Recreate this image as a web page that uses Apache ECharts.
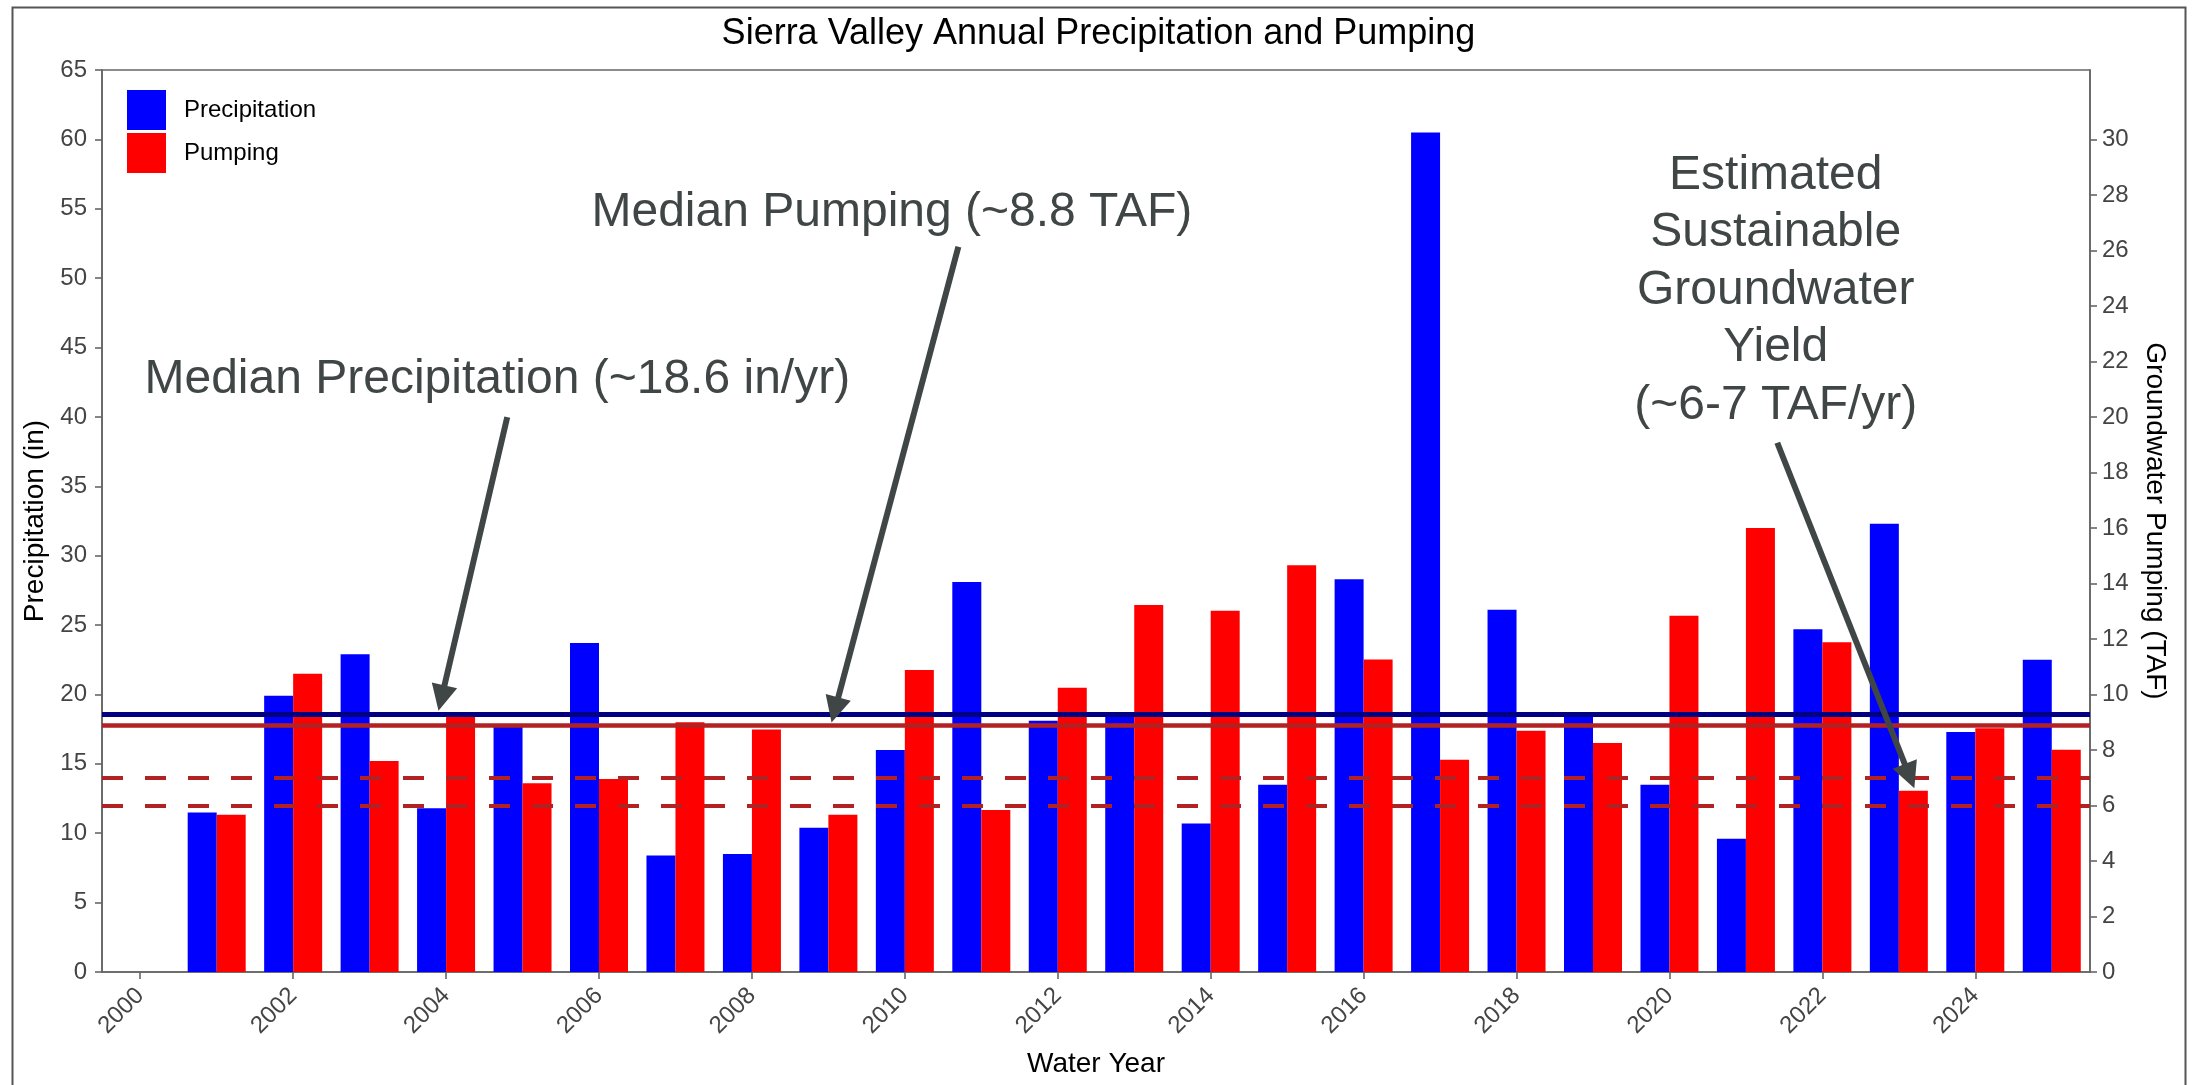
<!DOCTYPE html>
<html>
<head>
<meta charset="utf-8">
<script src="https://cdn.jsdelivr.net/npm/echarts@6/dist/echarts.min.js"></script>
<style>
html,body{margin:0;padding:0;background:#fff;}
#chart{width:2197px;height:1085px;}
</style>
</head>
<body>
<div id="chart"></div>
<script>
// ---- data ----
const years = [2001,2002,2003,2004,2005,2006,2007,2008,2009,2010,2011,2012,2013,2014,2015,2016,2017,2018,2019,2020,2021,2022,2023,2024,2025];
const precipitation = [11.5,19.9,22.9,11.8,17.7,23.7,8.4,8.5,10.4,16.0,28.1,18.1,18.6,10.7,13.5,28.3,60.5,26.1,18.6,13.5,9.6,24.7,32.3,17.3,22.5];
const pumping = [5.67,10.75,7.6,9.2,6.8,6.95,9.0,8.74,5.67,10.88,5.84,10.24,13.22,13.02,14.66,11.26,7.65,8.69,8.25,12.84,16.0,11.88,6.53,8.78,8.01];
const xTickYears = [2000,2002,2004,2006,2008,2010,2012,2014,2016,2018,2020,2022,2024];
const rightTicks = [0,2,4,6,8,10,12,14,16,18,20,22,24,26,28,30];
const medianPrecip = 18.6;
const medianPumpLine = 8.9;
const sustainableYield = [7, 6];
// annotation texts: [year, precip-axis value, text]
const annotationTexts = [
  [2004.67, 42.65, 'Median Precipitation (~18.6 in/yr)'],
  [2009.83, 54.7, 'Median Pumping (~8.8 TAF)'],
  [2021.39, 49.1, 'Estimated\nSustainable\nGroundwater\nYield\n(~6-7 TAF/yr)']
];
// arrows: [fromYear, fromValue, toYear, toValue] on precip axis
const arrows = [
  [2004.80, 39.99, 2003.94, 19.74],
  [2010.70, 52.27, 2009.085, 18.88],
  [2021.41, 38.14, 2023.14, 14.12]
];

const FONT = 'Liberation Sans, Arial, sans-serif';
const annColor = '#404646';

const chart = echarts.init(document.getElementById('chart'));
const option = {
  backgroundColor: '#ffffff',
  animation: false,
  title: {
    text: 'Sierra Valley Annual Precipitation and Pumping',
    left: 'center',
    top: 11,
    textStyle: {fontFamily: FONT, fontSize: 36, fontWeight: 'normal', color: '#000'}
  },
  legend: {
    data: ['Precipitation', 'Pumping'],
    orient: 'vertical',
    left: 122,
    top: 85,
    icon: 'rect',
    itemWidth: 39,
    itemHeight: 40,
    itemGap: 3,
    textStyle: {fontFamily: FONT, fontSize: 24, color: '#000', padding: [0, 0, 0, 13]}
  },
  grid: {
    left: 102, top: 70, right: 107, bottom: 113,
    show: true, borderColor: '#666', borderWidth: 1.6, backgroundColor: 'transparent'
  },
  graphic: [{
    type: 'rect', left: 10, top: 5, silent: true, z: 100,
    shape: {width: 2173, height: 1100},
    style: {fill: 'none', stroke: '#555', lineWidth: 2}
  }],
  xAxis: {
    type: 'value',
    min: 1999.5, max: 2025.5,
    name: 'Water Year',
    nameLocation: 'middle',
    nameGap: 78,
    nameTextStyle: {fontFamily: FONT, fontSize: 28, color: '#000'},
    axisLine: {show: true, lineStyle: {color: '#666', width: 1.6}},
    axisTick: {show: true, length: 7, lineStyle: {color: '#666', width: 1.6}, customValues: xTickYears},
    axisLabel: {
      rotate: 45, fontFamily: FONT, fontSize: 24, color: '#444', margin: 20,
      customValues: xTickYears, formatter: v => String(v)
    },
    splitLine: {show: false}
  },
  yAxis: [{
    type: 'value', min: 0, max: 65, interval: 5,
    name: 'Precipitation (in)',
    nameLocation: 'middle', nameRotate: 90, nameGap: 50,
    nameTextStyle: {fontFamily: FONT, fontSize: 28, color: '#000'},
    axisLine: {show: true, lineStyle: {color: '#666', width: 1.6}},
    axisTick: {show: true, length: 7, lineStyle: {color: '#666', width: 1.6}},
    axisLabel: {fontFamily: FONT, fontSize: 24, color: '#444', margin: 15},
    splitLine: {show: false}
  }, {
    type: 'value', min: 0, max: 32.5,
    position: 'right',
    name: 'Groundwater Pumping (TAF)',
    nameLocation: 'middle', nameRotate: -90, nameGap: 51,
    nameTextStyle: {fontFamily: FONT, fontSize: 28, color: '#000'},
    axisLine: {show: true, lineStyle: {color: '#666', width: 1.6}},
    axisTick: {show: true, length: 7, lineStyle: {color: '#666', width: 1.6}, customValues: rightTicks},
    axisLabel: {fontFamily: FONT, fontSize: 24, color: '#444', margin: 12, customValues: rightTicks},
    splitLine: {show: false}
  }],
  series: [{
    name: 'Precipitation',
    type: 'bar',
    yAxisIndex: 0,
    barWidth: 29,
    barGap: '0%',
    itemStyle: {color: '#0000ff'},
    data: years.map((y, i) => [y, precipitation[i]]),
    markLine: {
      silent: true, z: 10, animation: false,
      symbol: ['none', 'none'],
      label: {show: false},
      data: [
        {yAxis: medianPrecip, lineStyle: {color: '#000080', width: 5, type: 'solid'}}
      ]
    }
  }, {
    name: 'Pumping',
    type: 'bar',
    yAxisIndex: 1,
    barWidth: 29,
    barGap: '0%',
    itemStyle: {color: '#ff0000'},
    data: years.map((y, i) => [y, pumping[i]]),
    markLine: {
      silent: true, z: 9, animation: false,
      symbol: ['none', 'none'],
      label: {show: false},
      data: [
        {yAxis: medianPumpLine, lineStyle: {color: '#b22222', width: 4.7, type: 'solid'}},
        ...sustainableYield.map(v => ({yAxis: v, lineStyle: {color: '#b22222', width: 4.2, type: [21, 22]}}))
      ]
    }
  }, {
    name: 'annotations',
    type: 'scatter',
    yAxisIndex: 0,
    data: [],
    silent: true,
    z: 20,
    markLine: {
      silent: true, z: 20, animation: false,
      symbol: ['none', 'none'],
      label: {show: false},
      data: arrows.map(a => [
        {coord: [a[0], a[1]], symbol: 'none', lineStyle: {color: annColor, width: 6, type: 'solid'}},
        {coord: [a[2], a[3]], symbol: 'triangle', symbolSize: 26}
      ])
    },
    markPoint: {
      silent: true, z: 21, animation: false,
      symbol: 'rect', symbolSize: 1,
      itemStyle: {color: 'rgba(0,0,0,0)'},
      data: annotationTexts.map(t => ({
        coord: [t[0], t[1]],
        label: {
          show: true, position: 'inside', formatter: t[2],
          fontFamily: FONT, fontSize: 48, lineHeight: 57.6, color: annColor, align: 'center'
        }
      }))
    }
  }]
};
chart.setOption(option);
</script>
</body>
</html>
